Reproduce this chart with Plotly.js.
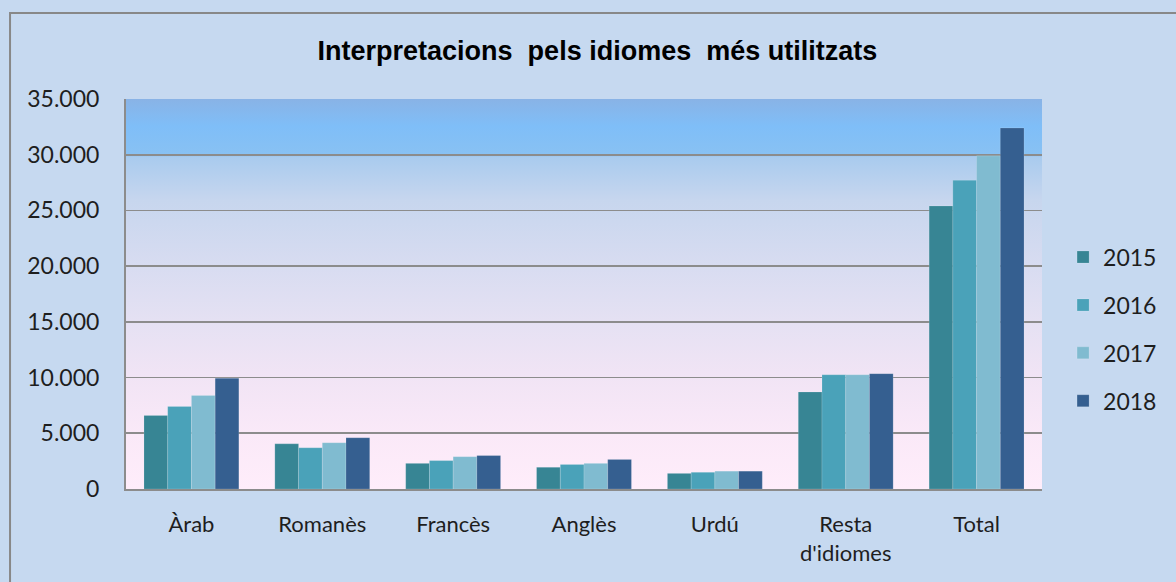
<!DOCTYPE html>
<html>
<head>
<meta charset="utf-8">
<script src="https://cdn.plot.ly/plotly-3.0.1.min.js"></script>
<style>html,body{margin:0;padding:0;background:#c6d9f0;}#chart{width:1176px;height:582px;}</style>
</head>
<body>
<div id="chart"></div>
<script>
const categories = ["Àrab", "Romanès", "Francès", "Anglès", "Urdú", "Resta<br>d'idiomes", "Total"];
const years = ["2015", "2016", "2017", "2018"];
const v2015 = [6600, 4050, 2300, 1950, 1400, 8700, 25400];
const v2016 = [7400, 3700, 2550, 2200, 1500, 10250, 27700];
const v2017 = [8400, 4150, 2900, 2300, 1600, 10250, 29900];
const v2018 = [9950, 4600, 3000, 2650, 1600, 10350, 32400];
const seriesValues = [v2015, v2016, v2017, v2018];
const colors = ["#378594", "#4aa2b9", "#80bbd0", "#355f90"];
const yTicks = [0, 5000, 10000, 15000, 20000, 25000, 30000, 35000];

const traces = years.map((y, i) => ({
  type: "bar",
  name: y,
  x: categories,
  y: seriesValues[i],
  legendgroup: y,
  marker: {color: colors[i], line: {color: "rgba(255,255,255,0.25)", width: 0.6}},
  hoverinfo: "x+y+name"
}));

const svg = '<svg xmlns="http://www.w3.org/2000/svg" width="100" height="100" preserveAspectRatio="none">' +
  '<defs><linearGradient id="g" x1="0" y1="0" x2="0" y2="1">' +
  '<stop offset="0" stop-color="#89b3e6"/>' +
  '<stop offset="0.07" stop-color="#7fbef8"/>' +
  '<stop offset="0.14" stop-color="#88c1f3"/>' +
  '<stop offset="0.15" stop-color="#a9cbee"/>' +
  '<stop offset="0.26" stop-color="#c7d6ee"/>' +
  '<stop offset="0.43" stop-color="#d8dcf1"/>' +
  '<stop offset="0.57" stop-color="#e5e1f3"/>' +
  '<stop offset="0.71" stop-color="#f1e4f5"/>' +
  '<stop offset="0.86" stop-color="#fae9f8"/>' +
  '<stop offset="1" stop-color="#ffedfa"/>' +
  '</linearGradient></defs><rect x="0" y="0" width="100" height="100" fill="url(#g)"/></svg>';
const bgSrc = "data:image/svg+xml;charset=utf-8," + encodeURIComponent(svg);

const layout = {
  width: 1176, height: 582,
  paper_bgcolor: "#c6d9f0",
  plot_bgcolor: "rgba(0,0,0,0)",
  margin: {l: 126, r: 134, t: 99, b: 93, autoexpand: false},
  separators: ",.",
  barmode: "group",
  bargap: 0.275,
  bargroupgap: 0,
  font: {family: "Lato, 'Open Sans', sans-serif", color: "#1e1e1e", size: 22},
  title: {
    text: "Interpretacions&nbsp; pels idiomes&nbsp; més utilitzats",
    font: {family: "'Liberation Sans', Arial, sans-serif", size: 27, color: "#000", weight: "bold"},
    x: 0.508, xref: "container", xanchor: "center",
    y: 0.914, yref: "container", yanchor: "middle"
  },
  xaxis: {
    type: "category",
    showline: true, linecolor: "#8c8c8c", linewidth: 2,
    showgrid: false, ticks: "",
    ticklabelstandoff: 15,
    tickfont: {size: 22}
  },
  yaxis: {
    range: [0, 35000],
    tickvals: yTicks,
    tickformat: ",d",
    showline: true, linecolor: "#8c8c8c", linewidth: 2,
    showgrid: true, gridcolor: "#8c8c8c", gridwidth: 1.6,
    zeroline: false, ticks: "",
    ticklabelstandoff: 20,
    tickfont: {size: 23}
  },
  legend: {
    x: 1.023, xanchor: "left",
    y: 0.41, yanchor: "middle",
    bgcolor: "rgba(0,0,0,0)",
    font: {size: 23},
    tracegroupgap: 15,
    traceorder: "grouped"
  },
  images: [{
    source: bgSrc, xref: "paper", yref: "paper",
    x: 0, y: 1, sizex: 1, sizey: 1,
    sizing: "stretch", layer: "below", xanchor: "left", yanchor: "top"
  }],
  shapes: [{
    type: "rect", xref: "paper", yref: "paper",
    x0: -0.1266, x1: 1.25, y0: -0.35, y1: 1.2205,
    line: {color: "#888888", width: 2}, fillcolor: "rgba(0,0,0,0)", layer: "below"
  }]
};

Plotly.newPlot("chart", traces, layout, {displayModeBar: false, staticPlot: true});
</script>
</body>
</html>
